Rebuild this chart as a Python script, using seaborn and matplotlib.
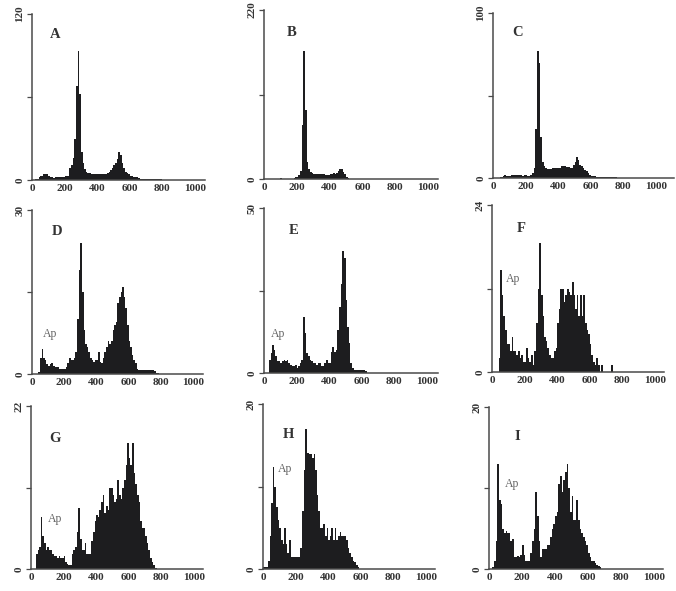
import numpy as np
import matplotlib
matplotlib.use("Agg")
import matplotlib.pyplot as plt
import seaborn as sns

# histogram heights, one value per 10-channel bin starting at channel 0
a_vals = [0,0,1,1,2,3,3,4,4,4,3,2,2,1.5,2,2,2,2,2,2.5,3,3,3,9,11,16,30,68,93,62,20,12,8,6,5,5,4,4,
          4,4,4,4,4,4,4,4,5,6,7,9,11,12,15,20,18,12,9,6,5,4,3,3,2.5,2,2,1.5,1,1,1,.6,.6,.5,.5,.5,.5,.5,.5,.5,.5,.5]
b_vals = [0,0,0,0,.5,.5,.5,.5,.5,.5,1,.5,.5,.5,.5,.5,.5,.5,1,2,3,5,10,70,166,90,22,13,9,8,7,7,6,6,6,6,6,5,5,5,
          6,6,8,7,8,11,13,13,9,6,3,1,.5,.5,.5]
c_vals = [0,0,0,0,.5,.5,1,2,1,1,1,2,2,2,2,2,2,2,1.5,2,2,1.5,1.5,2,3,6,30,77,70,25,10,7,6,5.5,5.5,5.5,6,6,6,6,
          6,6,7,7,7,6.5,6.5,6,6,8,10,13,11,8,7,6,5,4,3,2,1.5,1,1,.5,.5,.5,.5,.5,.5,.5,.5,.5,.5,.5,.8,.5]
d_vals = [0,0,0,0,.3,3,4.5,3,2.5,1.8,1.5,1.8,2,1.5,1.2,1.2,1.2,1,1,1,1,1.2,2,3,2.5,2.5,3,4,10,19,24,15,8,5.5,5,4,3,2.5,2.2,2.5,
          2.5,4,2.2,2,3,4,5,6,5.5,6,8,9,9.5,13,14,15,16,14,12,9,6,5,3.5,2.5,2,1,.8,.8,.8,.8,.8,.8,.8,.8,.8,.8,.5,.2,.1]
e_vals = [0,0,0,4,6,8.5,7,5,3.5,3.5,3,3.5,4,3.5,4,3,2.5,2,2,2.5,1.5,2,3,4,17,12,6,5,4,3.5,3,3,2.5,3,3,2,2,3,4,3,
          3,6.5,8,6.5,7,13,20,27,37,35,22,14,9,3,1.5,1,.8,.8,.8,.8,1,1,.5]
f_vals = [0,0,0,0,2,14.6,11,8,6,4,4,3,5,3,3,2.5,3,2,2.5,1.5,1.5,3.5,2,1.5,2.5,1,3,7,12,18.5,11,8,5,4.5,3.5,2.5,2,2,3,3.5,
          7,9,12,12,10,11,12,11.5,11,13,11,9,11,8,11,8,11,7,6,5.5,4,2.5,1.5,1,2,1,0,1,0,0,0,0,0,1]
g_vals = [0,0,0,2,2.5,3,7,4.5,3.5,2.5,3,2.5,2.5,2,1.8,1.8,1.5,1.8,1.5,1.5,1.7,1,.7,.5,.5,2,2.5,3,5,8.3,4,2.5,2.5,3.5,2,2,2,3.8,5,6.5,
          7.3,7,8,9,10,7.5,8.5,8,11,11,10,9,9.5,12,10,9.5,11,12,14,17,15,14,17,13,11.5,10,9,6.5,5.5,5.5,4.5,3.5,2.5,1.5,1,.5,.2]
h_vals = [.3,.3,.3,1,4,8,12.4,10,7.5,6,5,3.5,3,5,3,2,3.5,1.5,1.5,1.5,1.5,1.5,1.5,2.5,7,12,17,14,14,14,13.5,14,12,9,7,5,5,5.5,4,5,
          3.5,4,5,3.5,5,3.5,4,4.5,4,4,4,3.5,2.5,2,1.5,1,.8,.5,.3]
i_vals = [0,0,.3,1,3.5,13,8.5,8,5,4.5,4.7,4.5,4.5,3.5,3.7,1.5,1.5,1.6,1.5,1.7,3,1.7,1,1,1,2,3.5,5,9.5,6.5,3.5,1.5,2.5,2.5,2.5,3,3,4,5,5.5,
          6.5,7,10.5,11.5,9.5,11,12,13,10,7,9,6,6,8.5,6,5,4.5,4,3.5,3,2,1.5,1,1,.8,.5,.4,.3]

panel_vals = [a_vals, b_vals, c_vals, d_vals, e_vals, f_vals, g_vals, h_vals, i_vals]
panel_names = ["A", "B", "C", "D", "E", "F", "G", "H", "I"]
y_tops = [120, 220, 100, 30, 50, 24, 22, 20, 20]
x_ticks = [0, 200, 400, 600, 800, 1000]

# left, right, top, baseline, pixel of channel 1000
boxes = [(32, 205, 14, 180, 195), (264, 438, 10, 179, 428), (493, 674, 13, 178, 656),
         (32, 203, 210, 374, 193), (264, 438, 208, 373, 427), (492, 664, 205, 372, 655),
         (31, 203, 406, 569, 194), (263, 435, 404, 569, 426), (489, 663, 407, 569, 654)]
letter_pos = [(55, 35), (292, 33), (518, 32), (57, 232), (294, 230), (521, 229), (55, 438), (288, 435), (517, 436)]
ap_pos = [None, None, None, (50, 334), (278, 334), (513, 279), (55, 519), (285, 469), (512, 484)]

W, H = 676, 591
sns.set_style("white")
plt.rcParams['font.family'] = ['Liberation Serif', 'DejaVu Serif']

fig = plt.figure(figsize=(W / 100, H / 100), dpi=100)
ink = "#1d1d1f"

for i, vals in enumerate(panel_vals):
    left, right, top, base, x1000 = boxes[i]
    ax = fig.add_axes([left / W, 1 - base / H, (right - left) / W, (base - top) / H])
    edges = (np.arange(len(vals) + 1) * 10).tolist()
    centers = [e + 5 for e in edges[:-1]]
    sns.histplot(x=centers, weights=vals, bins=edges, element="step", fill=True,
                 color=ink, alpha=1, linewidth=0, ax=ax)
    ax.set_xlim(0, (right - left) / (x1000 - left) * 1000)
    ax.set_ylim(0, y_tops[i])
    ax.set_xlabel("")
    ax.set_ylabel("")
    sns.despine(ax=ax)
    ax.patch.set_alpha(0)
    for s in ["left", "bottom"]:
        ax.spines[s].set_color("#4a4a4a")
        ax.spines[s].set_linewidth(1.1)
    ax.set_xticks(x_ticks)
    ax.set_xticklabels([str(t) for t in x_ticks], fontsize=8, color="#333333", fontweight="bold")
    ax.tick_params(axis="x", length=0, pad=3)
    ax.set_yticks([0, y_tops[i] / 2, y_tops[i]])
    ax.set_yticklabels(["0", "", str(y_tops[i])], fontsize=8, color="#333333",
                       rotation=90, va="center", fontweight="bold")
    ax.tick_params(axis="y", left=True, length=3.5, width=0.9, color="#4a4a4a", pad=2)
    fig.text(letter_pos[i][0] / W, 1 - letter_pos[i][1] / H, panel_names[i], fontsize=10.5,
             fontweight="bold", color="#333333", ha="center", va="center")
    if ap_pos[i]:
        fig.text(ap_pos[i][0] / W, 1 - ap_pos[i][1] / H, "Ap", fontsize=8.5,
                 color="#666666", ha="center", va="center")

fig.savefig("out.png", dpi=100)
